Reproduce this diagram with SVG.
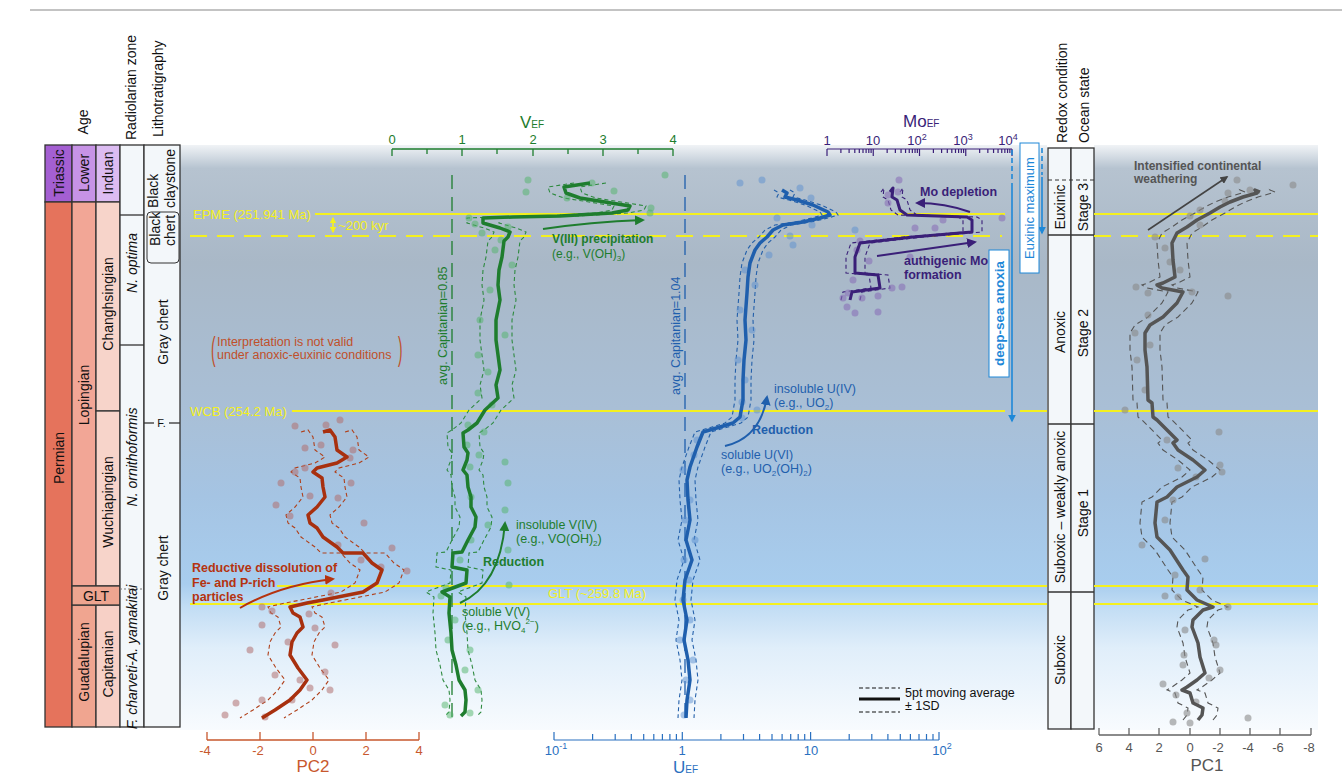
<svg xmlns="http://www.w3.org/2000/svg" width="1342" height="775" viewBox="0 0 1342 775">
<style>
text{font-family:"Liberation Sans",Arial,Helvetica,sans-serif;}
.cell{stroke:#333;stroke-width:1.3;}
.rc{font-size:14px;fill:#111;text-anchor:middle;dominant-baseline:central;}
.hd{font-size:14px;fill:#111;dominant-baseline:central;}
.yl{stroke:#f4f01e;stroke-width:2;fill:none;}
.yt{fill:#f4f01e;font-size:13px;}
.vmain{fill:none;stroke:#1e7d2e;stroke-width:3.5;stroke-linejoin:round;}
.venv{fill:none;stroke:#2f8a40;stroke-width:1.1;stroke-dasharray:4 3;}
.umain{fill:none;stroke:#1f5fad;stroke-width:3.5;stroke-linejoin:round;}
.uenv{fill:none;stroke:#2460aa;stroke-width:1.1;stroke-dasharray:4 3;}
.mmain{fill:none;stroke:#3a1f78;stroke-width:3;stroke-linejoin:round;}
.menv{fill:none;stroke:#3a1f78;stroke-width:1.1;stroke-dasharray:4 3;}
.pmain{fill:none;stroke:#a8300f;stroke-width:3.5;stroke-linejoin:round;}
.penv{fill:none;stroke:#b0401a;stroke-width:1.1;stroke-dasharray:4 3;}
.qmain{fill:none;stroke:#555;stroke-width:3.5;stroke-linejoin:round;}
.qenv{fill:none;stroke:#555;stroke-width:1.1;stroke-dasharray:6 4;}
.vp circle{fill:#4fb468;opacity:.5;}
.up circle{fill:#5b8fd0;opacity:.5;}
.mp circle{fill:#8a72b8;opacity:.6;}
.pp circle{fill:#b07070;opacity:.55;}
.qp circle{fill:#8a8a8a;opacity:.6;}
.green{fill:#1e7d2e;}
.blue{fill:#1f5fad;}
.purple{fill:#3a1f78;}
.red{fill:#b5330f;}
</style>
<defs>
<linearGradient id="bg" x1="0" y1="145" x2="0" y2="730" gradientUnits="userSpaceOnUse">
<stop offset="0" stop-color="#f0f3f6"/>
<stop offset="0.04" stop-color="#b6c3d0"/>
<stop offset="0.2" stop-color="#a9b8c7"/>
<stop offset="0.45" stop-color="#a9bfd6"/>
<stop offset="0.6" stop-color="#a5c4e3"/>
<stop offset="0.75" stop-color="#a8cdee"/>
<stop offset="0.79" stop-color="#c2ddf4"/>
<stop offset="0.86" stop-color="#e0eefa"/>
<stop offset="1" stop-color="#f8fbfe"/>
</linearGradient>
<marker id="ag" viewBox="0 0 10 10" refX="8" refY="5" markerWidth="5" markerHeight="5" orient="auto"><path d="M0,0L10,5L0,10z" fill="#1e7d2e"/></marker>
<marker id="ab" viewBox="0 0 10 10" refX="8" refY="5" markerWidth="5" markerHeight="5" orient="auto"><path d="M0,0L10,5L0,10z" fill="#1f5fad"/></marker>
<marker id="ab2" viewBox="0 0 10 10" refX="8" refY="5" markerWidth="5" markerHeight="5" orient="auto"><path d="M0,0L10,5L0,10z" fill="#1e88d8"/></marker>
<marker id="ap" viewBox="0 0 10 10" refX="8" refY="5" markerWidth="5" markerHeight="5" orient="auto"><path d="M0,0L10,5L0,10z" fill="#3a1f78"/></marker>
<marker id="ar" viewBox="0 0 10 10" refX="8" refY="5" markerWidth="5" markerHeight="5" orient="auto"><path d="M0,0L10,5L0,10z" fill="#b5330f"/></marker>
<marker id="ak" viewBox="0 0 10 10" refX="8" refY="5" markerWidth="5" markerHeight="5" orient="auto"><path d="M0,0L10,5L0,10z" fill="#444"/></marker>
<marker id="ay" viewBox="0 0 10 10" refX="8" refY="5" markerWidth="4" markerHeight="4" orient="auto-start-reverse"><path d="M0,0L10,5L0,10z" fill="#f4f01e"/></marker>
<path id="vc" d="M590,183 L564,187 L566,193 L580,198 L605,202 L630,206 L628,210 L612,213 L560,216 L513,217 L483,218 L483,223 L500,228 L510,232 L508,237 L504,241 L502,257 L499,270 L498,285 L500,300 L496,320 L496,340 L498,355 L500,370 L496,385 L498,398 L485,410 L477,423 L468,430 L463,433 L464,447 L468,453 L467,460 L463,470 L467,475 L468,487 L471,497 L471,507 L476,517 L475,527 L468,540 L462,552 L453,553 L452,567 L467,570 L466,583 L442,592 L450,597 L449,613 L451,633 L452,650 L456,665 L459,680 L465,690 L466,700 L465,712 L461,716"/>
<path id="uc" d="M782,190 L787,193 L785,197 L797,200 L813,205 L828,212 L830,215 L820,218 L803,222 L783,225 L773,230 L767,237 L760,243 L755,250 L750,263 L748,277 L747,293 L745,320 L746,340 L744,360 L743,380 L743,400 L740,417 L733,423 L720,427 L703,432 L697,447 L690,467 L687,480 L688,500 L690,520 L686,540 L692,560 L685,580 L683,600 L687,620 L684,640 L688,660 L690,680 L687,700 L686,718"/>
<path id="mc" d="M890,192 L893,188 L892,197 L897,200 L900,210 L907,215 L967,217 L972,220 L972,232 L960,233 L913,237 L860,243 L855,257 L855,273 L878,275 L880,288 L852,292 L850,300"/>
<path id="pc" d="M323,432 L330,430 L335,437 L337,450 L347,457 L337,463 L317,468 L313,472 L322,478 L323,487 L325,497 L317,507 L308,515 L310,523 L317,528 L323,537 L337,547 L343,553 L363,553 L372,563 L382,570 L377,583 L363,592 L323,600 L307,603 L290,607 L293,613 L300,617 L303,627 L297,633 L292,642 L290,655 L298,668 L307,680 L300,690 L290,700 L275,710 L262,718"/>
<path id="qc" d="M1260,192 L1255,190 L1257,193 L1243,197 L1230,202 L1220,207 L1210,213 L1197,220 L1187,227 L1177,233 L1172,243 L1173,260 L1175,277 L1163,283 L1157,285 L1162,288 L1183,292 L1177,303 L1163,317 L1150,325 L1145,333 L1145,350 L1147,367 L1148,400 L1152,403 L1153,417 L1157,420 L1170,433 L1177,440 L1173,443 L1178,450 L1193,460 L1205,470 L1197,477 L1177,487 L1167,497 L1157,502 L1155,523 L1157,537 L1170,550 L1183,570 L1188,577 L1187,590 L1197,600 L1213,607 L1203,610 L1193,620 L1192,627 L1198,643 L1200,657 L1205,673 L1197,680 L1187,687 L1182,690 L1190,693 L1193,703 L1203,708 L1202,715 L1198,720"/>
<path id="mdec" d="M13.9,0v4M22.1,0v4M27.8,0v4M32.3,0v4M36,0v4M39.1,0v4M41.8,0v4M44.1,0v4"/>
<path id="udec" d="M38.6,0v-6M61.2,0v-6M77.3,0v-6M89.7,0v-6M99.8,0v-6M108.4,0v-6M115.9,0v-6M122.4,0v-6"/>
</defs>

<rect width="1342" height="775" fill="#fff"/>
<line x1="30" y1="10" x2="1342" y2="10" stroke="#888" stroke-width="1.2"/>

<!-- backgrounds -->
<rect x="180" y="145" width="867" height="585" fill="url(#bg)"/>
<rect x="1094" y="145" width="224" height="585" fill="url(#bg)"/>

<!-- stratigraphic columns -->
<g id="strat-columns">
<rect class="cell" x="45" y="145" width="27" height="57" fill="#a45fd2"/>
<rect class="cell" x="45" y="202" width="27" height="525" fill="#e5735c"/>
<rect class="cell" x="72" y="145" width="24" height="57" fill="#c793e6"/>
<rect class="cell" x="72" y="202" width="24" height="384" fill="#f2a696"/>
<rect class="cell" x="72" y="605" width="24" height="122" fill="#f0a590"/>
<rect class="cell" x="96" y="145" width="24" height="57" fill="#dcbcf2"/>
<rect class="cell" x="96" y="202" width="24" height="209" fill="#f7d4ca"/>
<rect class="cell" x="96" y="411" width="24" height="175" fill="#f7d4ca"/>
<rect class="cell" x="96" y="605" width="24" height="122" fill="#f7d0c6"/>
<rect class="cell" x="72" y="586" width="48" height="19" fill="#eea590"/>
<rect class="cell" x="120" y="145" width="24" height="582" fill="#f3f7fa"/>
<line class="cell" x1="120" y1="215" x2="144" y2="215"/>
<line class="cell" x1="120" y1="345" x2="144" y2="345" stroke-width="0.8"/>
<line x1="120" y1="589" x2="144" y2="589" stroke="#777" stroke-width="1" stroke-dasharray="2 2"/>
<rect class="cell" x="144" y="145" width="36" height="582" fill="#f3f7fa"/>
<rect x="147" y="212" width="32" height="51" rx="4" fill="none" stroke="#333" stroke-width="1"/>
<line class="cell" x1="144" y1="423" x2="154" y2="423"/>
<line class="cell" x1="169" y1="423" x2="180" y2="423"/>
<text x="161.5" y="427" font-size="11" text-anchor="middle" fill="#111">F.</text>

<text class="hd" font-size="14" text-anchor="middle" transform="translate(83,122) rotate(-90)">Age</text>
<text class="hd" font-size="13.5" transform="translate(131,140) rotate(-90)">Radiolarian zone</text>
<text class="hd" font-size="13.5" transform="translate(158,137) rotate(-90)">Lithotratigraphy</text>

<text class="rc" transform="translate(58.5,173) rotate(-90)">Triassic</text>
<text class="rc" font-size="15" transform="translate(58.5,458) rotate(-90)">Permian</text>
<text class="rc" transform="translate(84,173) rotate(-90)">Lower</text>
<text class="rc" transform="translate(84,395) rotate(-90)">Lopingian</text>
<text class="rc" transform="translate(84,662) rotate(-90)">Guadalupian</text>
<text class="rc" transform="translate(108,173) rotate(-90)">Induan</text>
<text class="rc" transform="translate(108,304) rotate(-90)">Changhsingian</text>
<text class="rc" transform="translate(108,502) rotate(-90)">Wuchiapingian</text>
<text class="rc" transform="translate(108,664) rotate(-90)">Capitanian</text>
<text class="rc" font-size="15" x="96" y="596">GLT</text>
<text class="rc" font-style="italic" font-size="13.5" transform="translate(132,263) rotate(-90)">N. optima</text>
<text class="rc" font-style="italic" font-size="14" transform="translate(132,457) rotate(-90)">N. ornithoformis</text>
<text class="rc" font-style="italic" font-size="11.5" transform="translate(132,657) rotate(-90)">F. charveti-A. yamakitai</text>
<text class="hd" font-size="13" transform="translate(153,208) rotate(-90)">Black</text>
<text class="hd" font-size="13" transform="translate(170,208) rotate(-90)">claystone</text>
<text class="hd" font-size="13" transform="translate(155,246) rotate(-90)">Black</text>
<text class="hd" font-size="13" transform="translate(170,246) rotate(-90)">chert</text>
<text class="rc" transform="translate(163,332) rotate(-90)">Gray chert</text>
<text class="rc" transform="translate(163,568) rotate(-90)">Gray chert</text>
</g>

<!-- redox columns -->
<g id="redox-columns">
<rect class="cell" x="1048" y="148" width="23" height="581" fill="#f3f7fa"/>
<rect class="cell" x="1071" y="148" width="23" height="581" fill="#f3f7fa"/>
<line x1="1048" y1="180" x2="1094" y2="180" stroke="#333" stroke-width="1" stroke-dasharray="4 3"/>
<line class="cell" x1="1048" y1="235" x2="1094" y2="235"/>
<line class="cell" x1="1048" y1="424" x2="1094" y2="424"/>
<line class="cell" x1="1048" y1="592" x2="1094" y2="592"/>
<text class="hd" transform="translate(1062,143) rotate(-90)">Redox condition</text>
<text class="hd" transform="translate(1084,143) rotate(-90)">Ocean state</text>
<text class="rc" font-size="13.5" transform="translate(1060,207) rotate(-90)">Euxinic</text>
<text class="rc" font-size="13.5" transform="translate(1083,207) rotate(-90)">Stage 3</text>
<text class="rc" font-size="13.5" transform="translate(1060,332) rotate(-90)">Anoxic</text>
<text class="rc" font-size="13.5" transform="translate(1083,333) rotate(-90)">Stage 2</text>
<text class="rc" font-size="13.5" transform="translate(1060,507) rotate(-90)">Suboxic – weakly anoxic</text>
<text class="rc" font-size="13.5" transform="translate(1083,513) rotate(-90)">Stage 1</text>
<text class="rc" font-size="13.5" transform="translate(1060,660) rotate(-90)">Suboxic</text>
</g>

<!-- event lines -->
<g id="event-lines">
<line class="yl" x1="315" y1="214" x2="1005" y2="214"/>
<line class="yl" x1="190" y1="236" x2="1002" y2="236" stroke-dasharray="17 10"/>
<line class="yl" x1="292" y1="411" x2="1005" y2="411"/>
<line class="yl" x1="1020" y1="411" x2="1047" y2="411"/>
<line class="yl" x1="277" y1="586" x2="1047" y2="586"/>
<line class="yl" x1="190" y1="604" x2="1047" y2="604"/>
<line class="yl" x1="1094" y1="214" x2="1318" y2="214"/>
<line class="yl" x1="1094" y1="236" x2="1318" y2="236" stroke-dasharray="17 10"/>
<line class="yl" x1="1094" y1="411" x2="1318" y2="411"/>
<line class="yl" x1="1094" y1="586" x2="1318" y2="586"/>
<line class="yl" x1="1094" y1="604" x2="1318" y2="604"/>
<text class="yt" x="193" y="218.5">EPME (251.941 Ma)</text>
<text class="yt" x="190" y="415.5">WCB (254.2 Ma)</text>
<text class="yt" x="548" y="598">GLT (~259.8 Ma)</text>
<line x1="333" y1="218" x2="333" y2="232" stroke="#f4f01e" stroke-width="1.6" marker-start="url(#ay)" marker-end="url(#ay)"/>
<text class="yt" x="338" y="230">~200 kyr</text>
</g>

<!-- axes -->
<g id="axis-v">
<path d="M392,149H673M392,149v7M462,149v7M533,149v7M603,149v7M673,149v7M427,149v5M497,149v5M568,149v5M638,149v5" stroke="#1e7d2e" stroke-width="1.3" fill="none"/>
<g class="green" font-size="13" text-anchor="middle">
<text x="392" y="144">0</text><text x="462" y="144">1</text><text x="533" y="144">2</text><text x="603" y="144">3</text><text x="673" y="144">4</text>
</g>
<text class="green" x="520" y="128" font-size="17">V<tspan font-size="10">EF</tspan></text>
</g>
<g id="axis-mo" stroke="#3a1f78" stroke-width="1.2" fill="none">
<path d="M827,149H1012M827,149v7M873.25,149v7M919.5,149v7M965.75,149v7M1012,149v7"/>
<use href="#mdec" transform="translate(827,149)"/>
<use href="#mdec" transform="translate(873.25,149)"/>
<use href="#mdec" transform="translate(919.5,149)"/>
<use href="#mdec" transform="translate(965.75,149)"/>
</g>
<g class="purple" font-size="13" text-anchor="middle">
<text x="827" y="145">1</text><text x="873" y="145">10</text>
<text x="917" y="145">10<tspan dy="-5" font-size="9">2</tspan></text>
<text x="963" y="145">10<tspan dy="-5" font-size="9">3</tspan></text>
<text x="1008" y="145">10<tspan dy="-5" font-size="9">4</tspan></text>
</g>
<text class="purple" x="903" y="127" font-size="17">Mo<tspan font-size="10">EF</tspan></text>

<g id="axis-u" stroke="#2a70c0" stroke-width="1.2" fill="none">
<path d="M554,740H939M554,740v-8M682.3,740v-8M810.6,740v-8M939,740v-8"/>
<use href="#udec" transform="translate(554,740)"/>
<use href="#udec" transform="translate(682.3,740)"/>
<use href="#udec" transform="translate(810.6,740)"/>
</g>
<g fill="#2a70c0" font-size="13" text-anchor="middle">
<text x="556" y="755">10<tspan dy="-6" font-size="9">-1</tspan></text>
<text x="682" y="755">1</text><text x="811" y="755">10</text>
<text x="942" y="755">10<tspan dy="-6" font-size="9">2</tspan></text>
</g>
<text fill="#2a70c0" x="673" y="773" font-size="17">U<tspan font-size="10">EF</tspan></text>

<g id="axis-pc2">
<path d="M207,740H419M207,740v-8M260,740v-8M313,740v-8M366,740v-8M419,740v-8" stroke="#c8582e" stroke-width="1.3" fill="none"/>
<g fill="#c8582e" font-size="13" text-anchor="middle">
<text x="205" y="755">-4</text><text x="258" y="755">-2</text><text x="313" y="755">0</text><text x="366" y="755">2</text><text x="419" y="755">4</text>
</g>
<text fill="#c8582e" x="313" y="772" font-size="17" text-anchor="middle">PC2</text>
</g>

<g id="axis-pc1">
<path d="M1099,735H1311M1099,735v-7M1129,735v-7M1159,735v-7M1190,735v-7M1220,735v-7M1250,735v-7M1280,735v-7M1311,735v-7" stroke="#666" stroke-width="1.3" fill="none"/>
<g fill="#555" font-size="13" text-anchor="middle">
<text x="1099" y="752">6</text><text x="1129" y="752">4</text><text x="1159" y="752">2</text><text x="1190" y="752">0</text><text x="1218" y="752">-2</text><text x="1248" y="752">-4</text><text x="1278" y="752">-6</text><text x="1309" y="752">-8</text>
</g>
<text fill="#555" x="1207" y="771" font-size="17" text-anchor="middle">PC1</text>
</g>

<!-- reference lines -->
<g id="avg-lines">
<line x1="452" y1="175" x2="452" y2="720" stroke="#1e7d2e" stroke-width="1.3" stroke-dasharray="14 8"/>
<text class="green" font-size="12.5" transform="translate(447,385) rotate(-90)">avg. Capitanian=0.85</text>
<line x1="685" y1="175" x2="685" y2="720" stroke="#1f5fad" stroke-width="1.3" stroke-dasharray="14 8"/>
<text class="blue" font-size="12.5" transform="translate(680,395) rotate(-90)">avg. Capitanian=1.04</text>
</g>

<!-- data series -->
<g id="series-v">
<use href="#vc" class="venv" transform="translate(-16,0)"/>
<use href="#vc" class="venv" transform="translate(16,0)"/>
<g class="vp">
<circle cx="528" cy="180" r="3.5"/><circle cx="592" cy="183" r="3.5"/><circle cx="526" cy="192" r="3.5"/><circle cx="614" cy="191" r="3.5"/><circle cx="567" cy="198" r="3.5"/><circle cx="665" cy="175" r="3.5"/><circle cx="651" cy="208" r="3.5"/><circle cx="650" cy="213" r="3.5"/><circle cx="469" cy="218" r="3.5"/><circle cx="475" cy="224" r="3.5"/><circle cx="482" cy="233" r="3.5"/><circle cx="508" cy="227" r="3.5"/><circle cx="501" cy="240" r="3.5"/><circle cx="495" cy="250" r="3.5"/><circle cx="512" cy="265" r="3.5"/><circle cx="490" cy="290" r="3.5"/><circle cx="480" cy="320" r="3.5"/><circle cx="505" cy="335" r="3.5"/><circle cx="478" cy="355" r="3.5"/><circle cx="488" cy="372" r="3.5"/><circle cx="478" cy="393" r="3.5"/><circle cx="492" cy="405" r="3.5"/><circle cx="468" cy="425" r="3.5"/><circle cx="484" cy="432" r="3.5"/><circle cx="467" cy="445" r="3.5"/><circle cx="479" cy="455" r="3.5"/><circle cx="505" cy="462" r="3.5"/><circle cx="470" cy="467" r="3.5"/><circle cx="508" cy="483" r="3.5"/><circle cx="471" cy="497" r="3.5"/><circle cx="505" cy="510" r="3.5"/><circle cx="488" cy="525" r="3.5"/><circle cx="471" cy="540" r="3.5"/><circle cx="508" cy="550" r="3.5"/><circle cx="460" cy="560" r="3.5"/><circle cx="509" cy="585" r="3.5"/><circle cx="446" cy="588" r="3.5"/><circle cx="441" cy="596" r="3.5"/><circle cx="455" cy="620" r="3.5"/><circle cx="448" cy="640" r="3.5"/><circle cx="470" cy="650" r="3.5"/><circle cx="465" cy="670" r="3.5"/><circle cx="478" cy="690" r="3.5"/><circle cx="450" cy="715" r="3.5"/><circle cx="470" cy="713" r="3.5"/><circle cx="445" cy="705" r="3.5"/>
</g>
<use href="#vc" class="vmain"/>
</g>

<g id="series-u">
<use href="#uc" class="uenv" transform="translate(-8,0)"/>
<use href="#uc" class="uenv" transform="translate(8,0)"/>
<g class="up">
<circle cx="740" cy="183" r="3.5"/><circle cx="762" cy="180" r="3.5"/><circle cx="800" cy="188" r="3.5"/><circle cx="811" cy="198" r="3.5"/><circle cx="812" cy="225" r="3.5"/><circle cx="777" cy="218" r="3.5"/><circle cx="855" cy="230" r="3.5"/><circle cx="790" cy="236" r="3.5"/><circle cx="793" cy="245" r="3.5"/><circle cx="769" cy="255" r="3.5"/><circle cx="745" cy="270" r="3.5"/><circle cx="755" cy="285" r="3.5"/><circle cx="740" cy="310" r="3.5"/><circle cx="752" cy="330" r="3.5"/><circle cx="738" cy="360" r="3.5"/><circle cx="745" cy="380" r="3.5"/><circle cx="742" cy="402" r="3.5"/><circle cx="757" cy="410" r="3.5"/><circle cx="742" cy="418" r="3.5"/><circle cx="697" cy="440" r="3.5"/><circle cx="694" cy="455" r="3.5"/><circle cx="683" cy="470" r="3.5"/><circle cx="690" cy="500" r="3.5"/><circle cx="685" cy="520" r="3.5"/><circle cx="695" cy="540" r="3.5"/><circle cx="684" cy="560" r="3.5"/><circle cx="689" cy="580" r="3.5"/><circle cx="683" cy="600" r="3.5"/><circle cx="690" cy="620" r="3.5"/><circle cx="680" cy="640" r="3.5"/><circle cx="693" cy="660" r="3.5"/><circle cx="686" cy="680" r="3.5"/><circle cx="690" cy="700" r="3.5"/><circle cx="684" cy="715" r="3.5"/>
</g>
<use href="#uc" class="umain"/>
</g>

<g id="series-mo">
<use href="#mc" class="menv" transform="translate(-9,0)"/>
<use href="#mc" class="menv" transform="translate(10,0)"/>
<g class="mp">
<circle cx="899" cy="180" r="3.5"/><circle cx="898" cy="192" r="3.5"/><circle cx="888" cy="195" r="3.5"/><circle cx="888" cy="203" r="3.5"/><circle cx="860" cy="241" r="3.5"/><circle cx="857" cy="250" r="3.5"/><circle cx="853" cy="280" r="3.5"/><circle cx="869" cy="261" r="3.5"/><circle cx="910" cy="257" r="3.5"/><circle cx="943" cy="220" r="3.5"/><circle cx="935" cy="228" r="3.5"/><circle cx="915" cy="228" r="3.5"/><circle cx="1002" cy="218" r="3.5"/><circle cx="848" cy="293" r="3.5"/><circle cx="843" cy="298" r="3.5"/><circle cx="862" cy="298" r="3.5"/><circle cx="892" cy="288" r="3.5"/><circle cx="878" cy="296" r="3.5"/><circle cx="902" cy="287" r="3.5"/><circle cx="847" cy="307" r="3.5"/><circle cx="855" cy="313" r="3.5"/><circle cx="878" cy="312" r="3.5"/>
</g>
<use href="#mc" class="mmain"/>
</g>

<g id="series-pc2">
<use href="#pc" class="penv" transform="translate(-22,0)"/>
<use href="#pc" class="penv" transform="translate(22,0)"/>
<g class="pp">
<circle cx="295" cy="426" r="3.5"/><circle cx="326" cy="425" r="3.5"/><circle cx="340" cy="420" r="3.5"/><circle cx="305" cy="448" r="3.5"/><circle cx="321" cy="445" r="3.5"/><circle cx="353" cy="450" r="3.5"/><circle cx="350" cy="458" r="3.5"/><circle cx="295" cy="472" r="3.5"/><circle cx="305" cy="468" r="3.5"/><circle cx="281" cy="483" r="3.5"/><circle cx="351" cy="483" r="3.5"/><circle cx="310" cy="496" r="3.5"/><circle cx="276" cy="505" r="3.5"/><circle cx="290" cy="516" r="3.5"/><circle cx="338" cy="498" r="3.5"/><circle cx="364" cy="523" r="3.5"/><circle cx="338" cy="545" r="3.5"/><circle cx="381" cy="567" r="3.5"/><circle cx="407" cy="571" r="3.5"/><circle cx="392" cy="548" r="3.5"/><circle cx="361" cy="560" r="3.5"/><circle cx="331" cy="593" r="3.5"/><circle cx="262" cy="607" r="3.5"/><circle cx="272" cy="611" r="3.5"/><circle cx="309" cy="614" r="3.5"/><circle cx="315" cy="628" r="3.5"/><circle cx="262" cy="625" r="3.5"/><circle cx="288" cy="642" r="3.5"/><circle cx="335" cy="645" r="3.5"/><circle cx="250" cy="650" r="3.5"/><circle cx="275" cy="675" r="3.5"/><circle cx="300" cy="680" r="3.5"/><circle cx="325" cy="672" r="3.5"/><circle cx="330" cy="690" r="3.5"/><circle cx="236" cy="703" r="3.5"/><circle cx="262" cy="700" r="3.5"/><circle cx="292" cy="700" r="3.5"/><circle cx="265" cy="717" r="3.5"/><circle cx="225" cy="715" r="3.5"/><circle cx="310" cy="688" r="3.5"/>
</g>
<use href="#pc" class="pmain"/>
</g>

<g id="series-pc1">
<use href="#qc" class="qenv" transform="translate(-15,0)"/>
<use href="#qc" class="qenv" transform="translate(15,0)"/>
<g class="qp">
<circle cx="1237" cy="180" r="3.5"/><circle cx="1293" cy="185" r="3.5"/><circle cx="1228" cy="193" r="3.5"/><circle cx="1250" cy="190" r="3.5"/><circle cx="1225" cy="201" r="3.5"/><circle cx="1200" cy="210" r="3.5"/><circle cx="1190" cy="216" r="3.5"/><circle cx="1200" cy="225" r="3.5"/><circle cx="1155" cy="237" r="3.5"/><circle cx="1165" cy="248" r="3.5"/><circle cx="1170" cy="262" r="3.5"/><circle cx="1180" cy="270" r="3.5"/><circle cx="1136" cy="287" r="3.5"/><circle cx="1148" cy="293" r="3.5"/><circle cx="1192" cy="292" r="3.5"/><circle cx="1228" cy="296" r="3.5"/><circle cx="1148" cy="315" r="3.5"/><circle cx="1135" cy="333" r="3.5"/><circle cx="1150" cy="345" r="3.5"/><circle cx="1137" cy="360" r="3.5"/><circle cx="1145" cy="390" r="3.5"/><circle cx="1125" cy="410" r="3.5"/><circle cx="1219" cy="432" r="3.5"/><circle cx="1167" cy="440" r="3.5"/><circle cx="1178" cy="468" r="3.5"/><circle cx="1220" cy="465" r="3.5"/><circle cx="1222" cy="472" r="3.5"/><circle cx="1196" cy="477" r="3.5"/><circle cx="1173" cy="500" r="3.5"/><circle cx="1165" cy="520" r="3.5"/><circle cx="1142" cy="545" r="3.5"/><circle cx="1205" cy="559" r="3.5"/><circle cx="1175" cy="575" r="3.5"/><circle cx="1200" cy="590" r="3.5"/><circle cx="1165" cy="596" r="3.5"/><circle cx="1178" cy="597" r="3.5"/><circle cx="1228" cy="607" r="3.5"/><circle cx="1185" cy="630" r="3.5"/><circle cx="1184" cy="655" r="3.5"/><circle cx="1214" cy="640" r="3.5"/><circle cx="1216" cy="645" r="3.5"/><circle cx="1183" cy="665" r="3.5"/><circle cx="1220" cy="670" r="3.5"/><circle cx="1163" cy="684" r="3.5"/><circle cx="1209" cy="678" r="3.5"/><circle cx="1176" cy="695" r="3.5"/><circle cx="1196" cy="702" r="3.5"/><circle cx="1187" cy="713" r="3.5"/><circle cx="1173" cy="722" r="3.5"/><circle cx="1190" cy="723" r="3.5"/><circle cx="1248" cy="718" r="3.5"/>
</g>
<use href="#qc" class="qmain"/>
</g>

<!-- connectors / annotation arrows -->
<g id="connectors" fill="none">
<path d="M543,229 Q590,222 643,220" stroke="#1e7d2e" stroke-width="2" marker-end="url(#ag)"/>
<path d="M460,603 Q500,585 505,523" stroke="#1e7d2e" stroke-width="2" marker-end="url(#ag)"/>
<path d="M725,446 Q760,438 767,397" stroke="#1f5fad" stroke-width="2" marker-end="url(#ab)"/>
<path d="M970,212 Q945,203 917,203" stroke="#3a1f78" stroke-width="2" marker-end="url(#ap)"/>
<path d="M877,256 L975,242" stroke="#3a1f78" stroke-width="2" marker-end="url(#ap)"/>
<path d="M240,608 Q280,585 333,579" stroke="#b5330f" stroke-width="2" marker-end="url(#ar)"/>
<path d="M1148,230 L1227,177" stroke="#444" stroke-width="1.6" marker-end="url(#ak)"/>
<path d="M1042,148 V175" stroke="#1e88d8" stroke-width="1.6" stroke-dasharray="5 3"/>
<path d="M1042,177 V233" stroke="#1e88d8" stroke-width="1.6" marker-end="url(#ab2)"/>
<path d="M1012,150 V180" stroke="#1e88d8" stroke-width="1.6" stroke-dasharray="5 3"/>
<path d="M1012,183 V421" stroke="#1e88d8" stroke-width="1.6" marker-end="url(#ab2)"/>
</g>

<!-- annotations -->
<g id="annotations">
<text class="green" x="552" y="243" font-size="12" font-weight="bold">V(III) precipitation</text>
<text class="green" x="552" y="258" font-size="12">(e.g., V(OH)<tspan dy="3" font-size="8">3</tspan><tspan dy="-3">)</tspan></text>
<text class="green" x="516" y="529" font-size="12.5">insoluble V(IV)</text>
<text class="green" x="516" y="543" font-size="12.5">(e.g., VO(OH)<tspan dy="3" font-size="8">2</tspan><tspan dy="-3">)</tspan></text>
<text class="green" x="483" y="566" font-size="12.5" font-weight="bold">Reduction</text>
<text class="green" x="462" y="616" font-size="12.5">soluble V(V)</text>
<text class="green" x="462" y="630" font-size="12.5">(e.g., HVO<tspan dy="3" font-size="8">4</tspan><tspan dy="-9" font-size="8">2−</tspan><tspan dy="6">)</tspan></text>

<text class="blue" x="774" y="393" font-size="12.5">insoluble U(IV)</text>
<text class="blue" x="774" y="407" font-size="12.5">(e.g., UO<tspan dy="3" font-size="8">2</tspan><tspan dy="-3">)</tspan></text>
<text class="blue" x="752" y="434" font-size="12.5" font-weight="bold">Reduction</text>
<text class="blue" x="721" y="459" font-size="12.5">soluble U(VI)</text>
<text class="blue" x="721" y="473" font-size="12.5">(e.g., UO<tspan dy="3" font-size="8">2</tspan><tspan dy="-3">(OH)</tspan><tspan dy="3" font-size="8">2</tspan><tspan dy="-3">)</tspan></text>

<text class="purple" x="920" y="196" font-size="12.5" font-weight="bold">Mo depletion</text>
<text class="purple" x="904" y="265" font-size="12.5" font-weight="bold">authigenic Mo</text>
<text class="purple" x="904" y="279" font-size="12.5" font-weight="bold">formation</text>

<text class="red" x="192" y="572" font-size="12.5" font-weight="bold">Reductive dissolution of</text>
<text class="red" x="192" y="587" font-size="12.5" font-weight="bold">Fe- and P-rich</text>
<text class="red" x="192" y="601" font-size="12.5" font-weight="bold">particles</text>

<text fill="#c0502a" font-size="34" transform="translate(211,360) scale(0.4,1)">(</text>
<text fill="#c0502a" x="217" y="346" font-size="12.5">Interpretation is not valid</text>
<text fill="#c0502a" x="217" y="359" font-size="12.5">under anoxic-euxinic conditions</text>
<text fill="#c0502a" font-size="34" transform="translate(398,360) scale(0.4,1)">)</text>

<text fill="#555" x="1134" y="170" font-size="12" font-weight="bold">Intensified continental</text>
<text fill="#555" x="1134" y="183" font-size="12" font-weight="bold">weathering</text>

<rect x="1020" y="143" width="19" height="130" fill="#fff" stroke="#1e88d8" stroke-width="1"/>
<text fill="#1e88d8" font-size="13" text-anchor="middle" dominant-baseline="central" transform="translate(1029.5,208) rotate(-90)">Euxinic maximum</text>
<rect x="989" y="250" width="20" height="127" fill="#fff" stroke="#1e88d8" stroke-width="1"/>
<text fill="#1e88d8" font-size="13.5" font-weight="bold" text-anchor="middle" dominant-baseline="central" transform="translate(999,313.5) rotate(-90)">deep-sea anoxia</text>
</g>

<!-- legend -->
<g id="legend">
<line x1="859" y1="688" x2="900" y2="688" stroke="#111" stroke-width="1.2" stroke-dasharray="4 2.5"/>
<line x1="859" y1="699" x2="900" y2="699" stroke="#111" stroke-width="3"/>
<line x1="859" y1="712" x2="900" y2="712" stroke="#111" stroke-width="1.2" stroke-dasharray="4 2.5"/>
<text x="905" y="697" font-size="12.5" fill="#111">5pt moving average</text>
<text x="905" y="710" font-size="12.5" fill="#111">± 1SD</text>
</g>
</svg>
